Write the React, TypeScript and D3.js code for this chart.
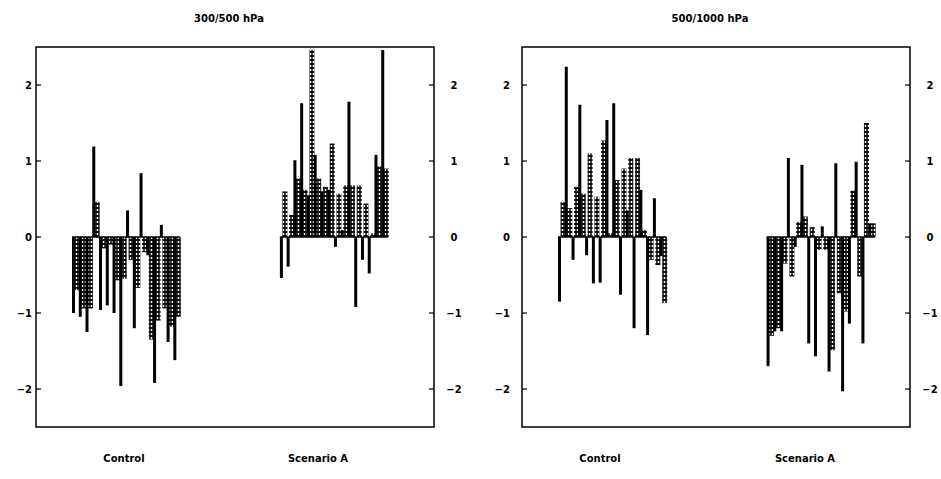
import React from 'react';
import * as d3 from 'd3';

const groups = ['Control', 'Scenario A'];
const yTicks = [-2, -1, 0, 1, 2];

// 300/500 hPa
const ctrl300Solid = [-1.0, -1.05, -1.25, 1.19, -0.96, -0.9, -1.0, -1.96, 0.35, -1.2, 0.84, -0.24, -1.92, 0.16, -1.38, -1.62];
const ctrl300Hatch = [-0.7, -0.94, -0.94, 0.46, -0.15, -0.1, -0.57, -0.55, -0.3, -0.67, -0.2, -1.35, -1.1, -0.94, -1.18, -1.05];
const scen300Solid = [-0.54, -0.39, 1.01, 1.76, 0.55, 1.08, 0.6, 0.62, -0.13, 0.09, 1.78, -0.92, -0.3, -0.48, 1.08, 2.46];
const scen300Hatch = [0.6, 0.29, 0.77, 0.62, 2.46, 0.77, 0.66, 1.23, 0.57, 0.68, 0.68, 0.68, 0.44, 0.05, 0.93, 0.9];

// 500/1000 hPa
const ctrl1000Solid = [-0.85, 2.24, -0.3, 1.74, -0.24, -0.61, -0.6, 1.54, 1.76, -0.76, 0.35, -1.2, 0.62, -1.29, 0.51, -0.25];
const ctrl1000Hatch = [0.46, 0.38, 0.66, 0.57, 1.1, 0.53, 1.27, 0.05, 0.75, 0.9, 1.04, 1.04, 0.09, -0.3, -0.37, -0.87];
const scen1000Solid = [-1.7, -1.24, -1.24, 1.04, -0.13, 0.95, -1.4, -1.57, 0.14, -1.77, 0.97, -2.03, -1.14, 0.99, -1.4, 0.18];
const scen1000Hatch = [-1.3, -1.2, -0.35, -0.52, 0.2, 0.27, 0.13, -0.17, -0.17, -1.49, -0.74, -0.98, 0.61, -0.52, 1.5, 0.18];

const panels = [
  {
    title: '300/500 hPa', left: 36, right: 434, bars: [72, 388], labelX: [124, 318],
    solid: [ctrl300Solid, scen300Solid], hatch: [ctrl300Hatch, scen300Hatch],
  },
  {
    title: '500/1000 hPa', left: 522, right: 910, bars: [558, 875], labelX: [600, 805],
    solid: [ctrl1000Solid, scen1000Solid], hatch: [ctrl1000Hatch, scen1000Hatch],
  },
];

const top = 47, bottom = 427;
const font = "'DejaVu Sans', sans-serif";

const fmt = (t: number) => (t < 0 ? '\u2212' + Math.abs(t) : String(t));

function Panel({ p, idx }: { p: typeof panels[0]; idx: number }) {
  const y = d3.scaleLinear().domain([-2.5, 2.5]).range([bottom, top]);
  const gx = d3.scaleBand<string>().domain(groups).range(p.bars as [number, number]).paddingInner(0.48);
  const mid = (p.left + p.right) / 2;
  return (
    <g>
      <text x={mid - 6} y={22} textAnchor="middle" fontFamily={font} fontWeight="bold" fontSize={10}>{p.title}</text>
      <rect x={p.left} y={top} width={p.right - p.left} height={bottom - top} fill="none" stroke="#000" strokeWidth={1.5} />
      {yTicks.map(t => (
        <g key={t}>
          <line x1={p.left} x2={p.left + 5} y1={y(t)} y2={y(t)} stroke="#000" strokeWidth={1.2} />
          <line x1={p.right - 5} x2={p.right} y1={y(t)} y2={y(t)} stroke="#000" strokeWidth={1.2} />
          <text x={p.left - (idx === 0 ? 4 : 12)} y={y(t)} dy="0.35em" textAnchor="end" fontFamily={font} fontWeight="bold" fontSize={10}>{fmt(t)}</text>
          <text x={p.right + 20} y={y(t)} dy="0.35em" textAnchor="middle" fontFamily={font} fontWeight="bold" fontSize={10}>{fmt(t)}</text>
        </g>
      ))}
      {groups.map((g, gi) => {
        const x0 = gx(g)!;
        const bw = gx.bandwidth();
        const sx = d3.scaleBand<number>().domain(d3.range(p.solid[gi].length)).range([x0, x0 + bw]);
        return (
          <g key={g}>
            {p.hatch[gi].map((v, i) => (
              <rect key={'h' + i} x={sx(i)! + 2.5} width={5} y={Math.min(y(0), y(v))} height={Math.abs(y(v) - y(0))} fill="url(#hatch)" />
            ))}
            {p.solid[gi].map((v, i) => (
              <rect key={'s' + i} x={sx(i)!} width={3} y={Math.min(y(0), y(v))} height={Math.abs(y(v) - y(0))} fill="#000" />
            ))}
            <line x1={x0} x2={x0 + bw} y1={y(0)} y2={y(0)} stroke="#000" strokeWidth={1.5} />
            <text x={p.labelX[gi]} y={462} textAnchor="middle" fontFamily={font} fontWeight="bold" fontSize={10}>{g}</text>
          </g>
        );
      })}
    </g>
  );
}

export default function App() {
  return (
    <svg width={941} height={479} style={{ position: 'absolute', left: 0, top: 0, background: '#fff' }}>
      <defs>
        <pattern id="hatch" width={3} height={4} patternUnits="userSpaceOnUse">
          <rect width={3} height={4} fill="#111" />
          <rect x={0.8} y={1} width={1.4} height={2} fill="#fff" />
        </pattern>
      </defs>
      {panels.map((p, i) => <Panel key={p.title} p={p} idx={i} />)}
    </svg>
  );
}
